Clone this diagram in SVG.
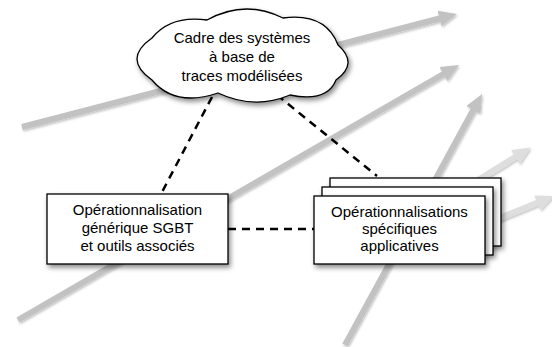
<svg xmlns="http://www.w3.org/2000/svg" width="552" height="347" viewBox="0 0 552 347">
<defs>
<style>
.arr{fill:none;stroke:#c2c2c2;stroke-width:6;marker-end:url(#ah)}
.arrl{fill:none;stroke:#dedede;stroke-width:6;marker-end:url(#ahl)}
.dash{fill:none;stroke:#000;stroke-width:2.5;stroke-dasharray:8 6}
.box{fill:#fff;stroke:#000;stroke-width:1.3}
.t{font-family:"Liberation Sans",Arial,Helvetica,sans-serif;font-size:15px;fill:#000;text-anchor:middle}
</style>
<marker id="ah" markerUnits="userSpaceOnUse" markerWidth="18" markerHeight="18" viewBox="0 0 18 18" refX="4" refY="9" orient="auto">
<path d="M0,1 L18,9 L0,17 Z" fill="#c2c2c2"/>
</marker>
<marker id="ahl" markerUnits="userSpaceOnUse" markerWidth="18" markerHeight="18" viewBox="0 0 18 18" refX="4" refY="9" orient="auto">
<path d="M0,1 L18,9 L0,17 Z" fill="#dedede"/>
</marker>
<filter id="sh" x="-20%" y="-20%" width="140%" height="150%">
<feDropShadow dx="2" dy="3" stdDeviation="2.5" flood-color="#000" flood-opacity="0.45"/>
</filter>
<filter id="ash" x="-10%" y="-20%" width="120%" height="140%">
<feDropShadow dx="1" dy="1.5" stdDeviation="1" flood-color="#000" flood-opacity="0.25"/>
</filter>
</defs>
<rect width="552" height="347" fill="#fff"/>
<g id="connectors">
<g filter="url(#ash)">
<path class="arr" d="M22,127 L443.4,17.5"/>
<path class="arr" d="M18,320 L446.9,72"/>
<path class="arr" d="M345,345 L475.3,106.3"/>
<path class="arrl" d="M478,180 L518.8,154.8"/>
<path class="arrl" d="M495,220 L541,201.3"/>
</g>
<path class="dash" d="M212,97 L161,194"/>
<path class="dash" d="M277,95 L377,176"/>
<path class="dash" d="M228,229 L314,229"/>
</g>
<g id="cloud">
<path class="box" filter="url(#sh)" d="M152,38 Q170.5,15 207,20 Q245,-1 283,18 Q325.5,12.5 338,45 Q359,63.5 336,80 Q327,102.5 290,95 Q254,110 218,93 Q175,107.5 152,80 Q122,59 152,38 Z"/>
<text class="t" x="242" y="43">Cadre des systèmes</text>
<text class="t" x="242" y="62">à base de</text>
<text class="t" x="242" y="81">traces modélisées</text>
</g>
<g id="generic">
<rect class="box" filter="url(#sh)" x="47" y="194" width="181" height="70"/>
<text class="t" x="137.5" y="215">Opérationnalisation</text>
<text class="t" x="137.5" y="233">générique SGBT</text>
<text class="t" x="137.5" y="251">et outils associés</text>
</g>
<g id="specific">
<rect class="box" filter="url(#sh)" x="330" y="178" width="171" height="68"/>
<rect class="box" filter="url(#sh)" x="322" y="187" width="171" height="68"/>
<rect class="box" filter="url(#sh)" x="314" y="196" width="171" height="68"/>
<text class="t" x="399.5" y="217">Opérationnalisations</text>
<text class="t" x="399.5" y="234">spécifiques</text>
<text class="t" x="399.5" y="251">applicatives</text>
</g>
</svg>
